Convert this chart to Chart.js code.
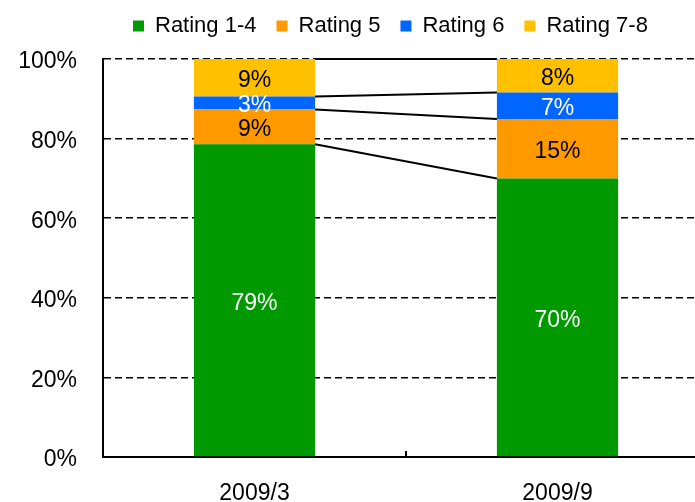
<!DOCTYPE html>
<html lang="en">
<head>
  <meta charset="UTF-8">
  <title>Rating mix</title>
  <script src="https://cdn.jsdelivr.net/npm/chart.js"></script>
  <style>
    html, body { margin: 0; padding: 0; background: #fff; overflow: hidden; }
    canvas { display: block; }
  </style>
</head>
<body>
  <canvas id="ratingChart" width="720" height="502"></canvas>

  <script>
    const periods = ['2009/3', '2009/9'];
    const rating14 = [78.6, 70.0];
    const rating5 = [8.7, 14.9];
    const rating6 = [3.3, 6.7];
    const rating78 = [9.4, 8.4];
    const yTicks = [0, 20, 40, 60, 80, 100];

    const font = "'Liberation Sans', Arial, sans-serif";

    // percent text in the middle of each segment
    const segmentLabels = {
      id: 'segmentLabels',
      afterDatasetsDraw(chart) {
        const ctx = chart.ctx;
        ctx.save();
        ctx.font = '23px ' + font;
        ctx.textAlign = 'center';
        ctx.textBaseline = 'middle';
        chart.data.datasets.forEach((ds, i) => {
          chart.getDatasetMeta(i).data.forEach((bar, j) => {
            ctx.fillStyle = ds.labelColor;
            ctx.fillText(Math.round(ds.data[j]) + '%', bar.x, (bar.y + bar.base) / 2 + 3);
          });
        });
        ctx.restore();
      }
    };

    // lines joining the top of each segment from one bar to the next
    const connectors = {
      id: 'connectors',
      afterDatasetsDraw(chart) {
        const ctx = chart.ctx;
        ctx.save();
        ctx.strokeStyle = '#000';
        ctx.lineWidth = 2;
        chart.data.datasets.forEach((ds, i) => {
          const bars = chart.getDatasetMeta(i).data;
          for (let j = 0; j < bars.length - 1; j++) {
            const a = bars[j], b = bars[j + 1];
            ctx.beginPath();
            ctx.moveTo(a.x + a.width / 2, a.y);
            ctx.lineTo(b.x - b.width / 2, b.y);
            ctx.stroke();
          }
        });
        ctx.restore();
      }
    };

    // move the legend row to where it sits in the original
    const legendNudge = {
      id: 'legendNudge',
      afterLayout(chart) {
        const lg = chart.legend;
        lg.left += 95; lg.right += 95;
        lg.top -= 12; lg.bottom -= 12;
      }
    };

    new Chart(document.getElementById('ratingChart'), {
      type: 'bar',
      data: {
        labels: periods,
        datasets: [
          { label: 'Rating 1-4', data: rating14, backgroundColor: '#009900', labelColor: '#fff' },
          { label: 'Rating 5', data: rating5, backgroundColor: '#FF9900', labelColor: '#000' },
          { label: 'Rating 6', data: rating6, backgroundColor: '#0066FF', labelColor: '#fff' },
          { label: 'Rating 7-8', data: rating78, backgroundColor: '#FFC000', labelColor: '#000' }
        ]
      },
      options: {
        responsive: false,
        animation: false,
        layout: { padding: { left: 18, right: 11, top: 7, bottom: 0 } },
        datasets: { bar: { categoryPercentage: 1, barPercentage: 0.4, borderWidth: 0 } },
        scales: {
          x: {
            stacked: true,
            afterFit: s => { s.height = 45; },
            grid: { drawOnChartArea: false, drawTicks: true, tickLength: -6, color: '#000', lineWidth: 2, offset: true },
            border: { color: '#000', width: 2 },
            ticks: { color: '#000', font: { family: font, size: 23, lineHeight: 1 }, padding: 31 }
          },
          y: {
            stacked: true,
            min: 0,
            max: 100,
            afterFit: s => { s.width = 85; },
            afterBuildTicks: s => { s.ticks = yTicks.map(v => ({ value: v })); },
            grid: {
              color: c => c.tick && c.tick.value === 0 ? 'rgba(0,0,0,0)' : '#000',
              lineWidth: 1.5,
              drawTicks: false
            },
            border: { color: '#000', width: 2, dash: [7, 4] },
            ticks: { color: '#000', font: { family: font, size: 23 }, padding: 26, labelOffset: 3, callback: v => v + '%' }
          }
        },
        plugins: {
          legend: {
            position: 'top',
            align: 'start',
            labels: { color: '#000', boxWidth: 11, boxHeight: 11, padding: 20, font: { family: font, size: 22 } }
          },
          tooltip: { enabled: false }
        }
      },
      plugins: [connectors, segmentLabels, legendNudge]
    });
  </script>
</body>
</html>
